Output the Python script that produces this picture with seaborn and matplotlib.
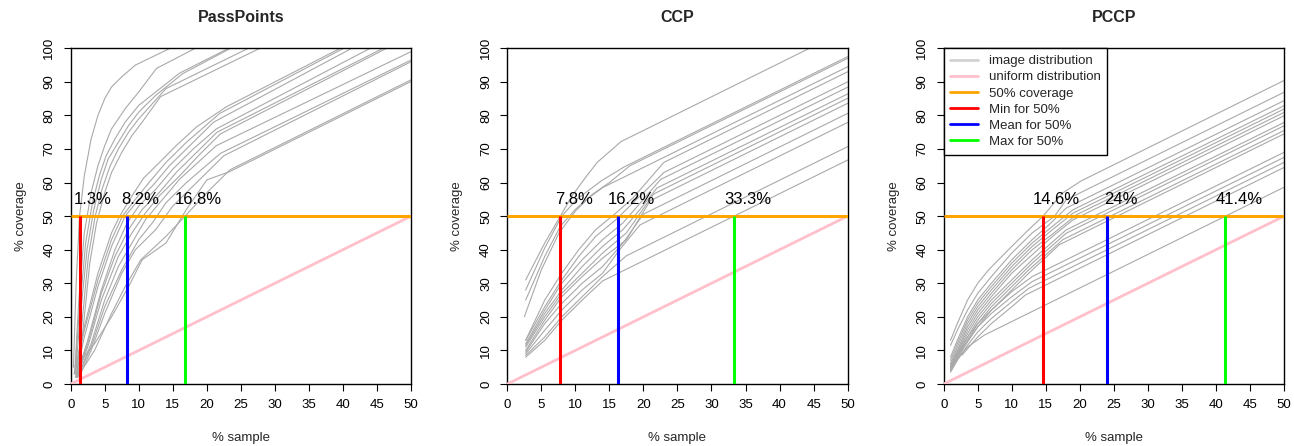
import matplotlib
matplotlib.use("Agg")
import matplotlib.pyplot as plt
import seaborn as sns
import pandas as pd
from matplotlib.lines import Line2D

# ---------------- data ----------------
panel_titles = ["PassPoints", "CCP", "PCCP"]
x_ticks = [0, 5, 10, 15, 20, 25, 30, 35, 40, 45, 50]
y_ticks = [0, 10, 20, 30, 40, 50, 60, 70, 80, 90, 100]

# PassPoints image-distribution curves
passpoints_x = [
    [0.4, 0.8, 1.3, 2, 3, 4, 5, 6, 7.5, 9.5, 14.6],
    [0.6, 1.2, 2, 3, 4, 5, 6, 8, 10, 12.6, 18.3],
    [0.6, 1.2, 2.2, 3.2, 4.2, 5.2, 6.5, 8, 10, 12.5, 16, 23.2],
    [0.7, 1.3, 2.4, 3.4, 4.5, 5.5, 7, 8.5, 10, 12.5, 16.5, 23.5],
    [0.8, 1.5, 2.6, 3.6, 4.6, 5.8, 7, 8.5, 10, 14, 26.1],
    [0.9, 1.6, 2.8, 3.8, 5, 6, 7.5, 9, 10.5, 13.2, 27.8],
    [0.5, 2, 4, 6, 7.2, 9, 10.7, 12.9, 15.5, 18.5, 22.9, 39.6],
    [0.6, 2, 4, 6, 7.6, 9.5, 11.5, 14, 17, 21.9, 40.1],
    [0.7, 2, 4, 6, 8, 10, 12, 14.5, 18, 21, 41.3],
    [0.8, 2.5, 4.5, 6.5, 8.3, 10, 12.5, 15, 18, 21.4, 44],
    [0.8, 2.5, 4.5, 6.5, 8.5, 10.5, 13, 15.5, 18.5, 21.5, 45.9],
    [0.9, 2.5, 4.5, 7, 9, 11, 13, 16, 19, 22, 46.4],
    [1, 3, 5, 7, 9, 11, 13.5, 16, 21.4, 50],
    [1, 3, 5, 7.5, 10, 12, 14, 17, 22, 50],
    [1.2, 3, 5, 7.5, 9.5, 12.5, 15, 18, 22.5, 50],
    [1.3, 3.5, 6, 8, 10.3, 14, 16.8, 20, 23.4, 50],
    [1.5, 3.5, 6, 8.5, 10.5, 14, 17, 20, 23.4, 50],
]
passpoints_y = [
    [5, 30, 50, 62, 73, 80, 85, 88.5, 91.5, 95, 100],
    [4, 25, 45, 57, 65, 71, 76, 82, 87, 94, 100],
    [3, 20, 42, 54, 62, 68, 73, 78, 83, 87, 92.6, 100],
    [3, 18, 40, 52, 61, 67, 72, 77, 81, 86, 92.5, 100],
    [2, 15, 38, 50, 58, 65, 70, 75, 79, 88, 100],
    [2, 12, 36, 48, 57, 63, 69, 74, 78, 85.6, 100],
    [3, 17, 33, 45, 50, 56, 61.3, 65.7, 71, 76.6, 82.6, 100],
    [3, 16, 31, 43, 50, 55, 60, 66, 72, 80.6, 100],
    [2, 14, 29, 41, 50, 55, 59, 65, 72, 78, 100],
    [2, 13, 28, 40, 48, 53, 58, 64, 70, 76, 100],
    [2, 12, 27, 38, 46, 52, 57, 63, 69, 75, 100],
    [2, 11, 25, 38, 45, 51, 56, 62, 68.5, 74.5, 100],
    [2, 12, 25, 35, 42, 49, 55, 61, 71, 99],
    [2, 11, 23, 34, 43, 48, 54, 60, 68.7, 96.5],
    [2, 10, 21, 33, 40, 46, 53, 59, 68, 96],
    [3, 10, 21, 29, 37, 44, 50, 57, 63.8, 90.6],
    [7, 12, 20, 29, 37, 42, 52, 60.8, 63.3, 90.1],
]

# CCP image-distribution curves
ccp_x = [
    [2.7, 5.5, 7.8, 9.5, 11.3, 13.2, 16.7, 44.4],
    [2.7, 5.5, 8, 10.2, 13.8, 17.2, 50],
    [2.7, 5.5, 7.8, 10, 12.5, 15, 18, 50],
    [2.5, 5, 7.6, 10, 12, 14, 50],
    [2.7, 5.5, 8, 10.5, 13, 16, 18.5, 23, 50],
    [2.7, 5.5, 8, 10.5, 13, 16, 19, 23, 50],
    [2.7, 5.5, 8, 11, 14, 17, 20, 22.5, 50],
    [2.7, 5.5, 8, 11, 14, 17, 19.5, 22, 50],
    [2.7, 5.5, 8, 11, 14, 17.5, 21.5, 50],
    [2.7, 5.5, 8, 11, 14, 17.5, 21, 50],
    [2.7, 5.5, 8, 11, 14, 17, 20, 50],
    [2.7, 5.5, 8, 11, 14, 16.5, 19.5, 50],
    [2.7, 5.5, 8, 11, 14, 17.5, 50],
    [2.7, 5.5, 8, 11, 14, 50],
]
ccp_y = [
    [31, 42, 50, 56, 61, 66, 72.2, 100],
    [28, 40.5, 50, 55, 60.5, 64.7, 97.5],
    [25, 38, 47, 52, 56.5, 60, 65, 97],
    [20, 34, 45, 51.5, 55.5, 58.5, 94.5],
    [13, 25, 33, 40, 46, 51, 55.5, 66, 93],
    [13, 23, 31, 38, 44, 49, 55, 63, 90],
    [12, 22, 30, 37, 43, 48, 55, 60.9, 88.4],
    [11.5, 21, 28, 35, 41, 46, 52, 58.4, 86.4],
    [11, 20, 27, 33, 39, 45, 56.6, 85.1],
    [10, 19, 26, 32, 37.5, 43, 54.6, 83.6],
    [9.5, 18, 24, 30, 35, 42, 50.6, 80.6],
    [9, 16, 22, 28, 33, 40, 47.4, 77.9],
    [8.5, 14, 20, 26, 32, 38.2, 70.7],
    [8, 13, 19, 25, 30.7, 66.7],
]

# PCCP image-distribution curves
pccp_x = [
    [1, 2, 3.5, 5, 6.6, 10, 12.5, 14.6, 17.4, 20.2, 50],
    [1, 2, 3.5, 5, 7, 10, 13, 16.3, 18, 50],
    [1, 2, 3.5, 5, 7, 10, 13, 15.5, 18, 50],
    [1, 2, 3.5, 5, 7, 10, 13, 16, 19, 50],
    [1, 2, 3.5, 5, 7, 10, 13, 16, 19, 50],
    [1, 2, 3.5, 5, 7, 10, 13, 16.5, 19.5, 50],
    [1, 2, 3.5, 5, 7, 10, 13, 16, 19, 50],
    [1, 2, 3.5, 5, 7, 10, 13, 18, 50],
    [1, 2, 3.5, 5, 7, 10, 13, 18, 50],
    [1, 2, 3.5, 5, 7, 10, 12.5, 17.5, 50],
    [1, 2, 3.5, 5, 7, 10, 12.5, 17, 50],
    [1, 2, 3.5, 5, 7, 10, 13, 50],
    [1, 2, 3.5, 5, 7, 10, 13, 50],
    [1, 2, 3.5, 5, 7, 10, 12.5, 50],
    [2.7, 3.5, 5, 7, 10, 12, 50],
    [1, 2, 3.5, 6, 50],
]
pccp_y = [
    [13, 18, 25, 30, 34, 41, 46, 50, 56.8, 60.5, 90.4],
    [11.5, 16, 22, 27, 32, 39, 45, 50, 54.9, 86.9],
    [8, 13, 20, 25, 30, 37, 43, 47.5, 52.4, 84.4],
    [7, 12, 19, 24, 29, 36, 42, 47, 51.9, 82.9],
    [6, 11, 18, 23, 28, 35, 41, 46, 50.9, 81.9],
    [6, 10, 17, 22, 27, 34, 40, 45.5, 50.4, 80.9],
    [5, 9.5, 16, 21, 26, 33, 38.5, 44, 48.9, 79.9],
    [5, 9, 15, 20, 25, 31, 37, 45.9, 77.9],
    [4.5, 8.5, 14, 19, 24, 30, 36, 44.9, 76.9],
    [4, 8, 13, 18, 23, 29, 34, 43, 75.5],
    [4, 7.5, 12.5, 17, 22, 28, 33, 41.5, 74.5],
    [5.5, 9, 14, 18, 22, 27.5, 32, 69],
    [5, 8.5, 13, 17, 21, 26, 30.5, 67.5],
    [3.5, 7, 11.5, 15.5, 19.5, 24.5, 28.5, 66],
    [8.6, 10.5, 14, 18, 23, 26.5, 64.5],
    [4, 7.5, 11, 14.6, 58.6],
]

uniform_x = [0, 50]
uniform_y = [0, 50]
coverage_level = 50

min_50 = [1.3, 7.8, 14.6]
mean_50 = [8.2, 16.2, 24.0]
max_50 = [16.8, 33.3, 41.4]
min_labels = ["1.3%", "7.8%", "14.6%"]
mean_labels = ["8.2%", "16.2%", "24%"]
max_labels = ["16.8%", "33.3%", "41.4%"]

legend_labels = ["image distribution", "uniform distribution", "50% coverage",
                 "Min for 50%", "Mean for 50%", "Max for 50%"]

# ---------------- styling ----------------
sns.set_theme(style="ticks")
plt.rcParams["font.family"] = ["Liberation Sans", "DejaVu Sans"]
plt.rcParams["axes.linewidth"] = 1.0

GRAY = "#A9A9A9"
LEGEND_GRAY = "#D3D3D3"
PINK = "#FFC0CB"
ORANGE = "#FFA500"
RED = "#FF0000"
BLUE = "#0000FF"
GREEN = "#00FF00"

rows = []
for pname, xs_list, ys_list in zip(panel_titles,
                                   [passpoints_x, ccp_x, pccp_x],
                                   [passpoints_y, ccp_y, pccp_y]):
    for ci, (xs, ys) in enumerate(zip(xs_list, ys_list)):
        for xv, yv in zip(xs, ys):
            rows.append({"panel": pname, "curve": ci, "x": xv, "y": yv})
df = pd.DataFrame(rows)

W, H = 1294, 446
fig = plt.figure(figsize=(W / 100, H / 100), dpi=100)
lefts_px = [70.7, 507.3, 943.7]
ax_w_px = 340.3
bottom_px = 384.0
top_px = 48.3

for i, pname in enumerate(panel_titles):
    ax = fig.add_axes([lefts_px[i] / W, (H - bottom_px) / H,
                       ax_w_px / W, (bottom_px - top_px) / H])
    sub = df[df["panel"] == pname]
    sns.lineplot(data=sub, x="x", y="y", units="curve", estimator=None,
                 sort=False, color=GRAY, lw=0.8, ax=ax, legend=False, zorder=2)
    sns.lineplot(x=uniform_x, y=uniform_y, color=PINK, lw=2.0, ax=ax, zorder=3)
    ax.hlines(coverage_level, 0, 50, color=ORANGE, lw=2.2, zorder=4)
    ax.vlines(min_50[i], 0, coverage_level, color=RED, lw=2.2, zorder=5)
    ax.vlines(mean_50[i], 0, coverage_level, color=BLUE, lw=2.2, zorder=5)
    ax.vlines(max_50[i], 0, coverage_level, color=GREEN, lw=2.2, zorder=5)
    for v, lab in zip([min_50[i], mean_50[i], max_50[i]],
                      [min_labels[i], mean_labels[i], max_labels[i]]):
        ax.text(v + 2, 55, lab, ha="center", va="center", fontsize=12,
                color="black", zorder=6)

    ax.set_xlim(0, 50)
    ax.set_ylim(0, 100)
    ax.set_xticks(x_ticks)
    ax.set_yticks(y_ticks)
    ax.set_xticklabels([str(t) for t in x_ticks])
    ax.set_yticklabels([str(t) for t in y_ticks], rotation=90, va="center")
    ax.tick_params(direction="out", length=5, width=0.8, labelsize=9.5,
                   colors="black", pad=6)
    for s in ax.spines.values():
        s.set_visible(True)
        s.set_color("black")
        s.set_linewidth(1.0)
    ax.set_xlabel("% sample", fontsize=9.5, labelpad=15)
    ax.set_ylabel("% coverage", fontsize=9.5, labelpad=12)
    ax.set_title(pname, fontsize=11.5, fontweight="bold", pad=19)

    if i == 2:
        handles = [Line2D([], [], color=c, lw=2.0) for c in
                   [LEGEND_GRAY, PINK, ORANGE, RED, BLUE, GREEN]]
        leg = ax.legend(handles, legend_labels, loc="upper left",
                        bbox_to_anchor=(0, 1), borderaxespad=0, frameon=True,
                        fancybox=False, edgecolor="black", framealpha=1,
                        fontsize=9.5, handlelength=2.1, handletextpad=0.8,
                        labelspacing=0.3, borderpad=0.5)
        leg.get_frame().set_linewidth(1.0)
        leg.set_zorder(10)

fig.savefig("out.png", dpi=100)
